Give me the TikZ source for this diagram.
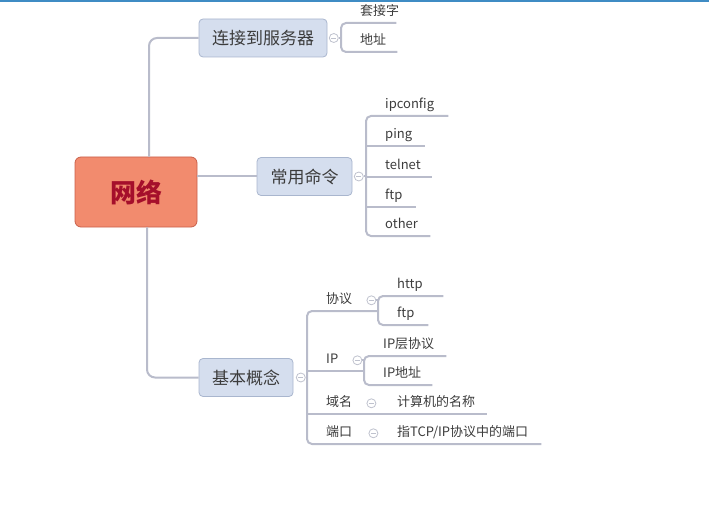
\documentclass[tikz,border=0pt]{standalone}
\usepackage{fontspec}
\setmainfont{Noto Sans CJK SC}
\usetikzlibrary{positioning}

\definecolor{branchgray}{HTML}{B9BCCB}
\definecolor{foldgray}{HTML}{BFC2CE}
\definecolor{topicfill}{HTML}{D5DEEE}
\definecolor{topicline}{HTML}{A9B6CE}
\definecolor{rootfill}{HTML}{F28B6E}
\definecolor{rootline}{HTML}{C9604A}
\definecolor{roottext}{HTML}{A50F2B}
\definecolor{textgray}{HTML}{3C3C3C}
\definecolor{barblue}{HTML}{3F8CC4}

\begin{document}
\begin{tikzpicture}[x=1pt, y=-1pt,
    branch/.style={draw=branchgray, line width=2pt},
    root/.style={rectangle, rounded corners=6pt, draw=rootline, fill=rootfill, line width=0.8pt,
        text=roottext, font=\fontsize{26}{30}\selectfont\bfseries, inner sep=0pt},
    topic/.style={rectangle, rounded corners=4pt, draw=topicline, fill=topicfill, line width=0.8pt,
        text=textgray, font=\fontsize{17}{20}\selectfont, minimum height=38pt, inner sep=0pt},
    leaf/.style={anchor=south west, inner xsep=0pt, inner ysep=4pt, text height=10pt, text depth=3pt,
        align=left, text=textgray, font=\fontsize{13}{15}\selectfont,
        execute at begin node={\hspace*{19pt}}},
    fold/.style={circle, draw=foldgray, fill=white, line width=0.8pt, minimum size=9pt, inner sep=0pt,
        path picture={\draw[foldgray, line width=0.8pt] (path picture bounding box.center) ++(-2.5pt,0) -- ++(5pt,0);}}]
\useasboundingbox (0,0) rectangle (709,505);

% top bar
\draw[barblue, line width=2pt] (0,1) -- (709,1);

% Root and main topics
\node[root, minimum width=122pt, minimum height=70pt] (net) at (136,192) {网络};
\node[topic, minimum width=128pt] (server) at (263,38) {连接到服务器};
\node[topic, minimum width=95pt] (cmd) at (304.5,176.5) {常用命令};
\node[topic, minimum width=94pt] (basic) at (246,377.5) {基本概念};

\draw[branch, rounded corners=8pt] ([xshift=13pt]net.north) |- (server.west);
\draw[branch] (net.east |- cmd.west) -- (cmd.west);
\draw[branch, rounded corners=8pt] ([xshift=11pt]net.south) |- (basic.west);

\node[fold, right=1.5pt of server] (server-fold) {};
\node[fold, right=1.5pt of cmd] (cmd-fold) {};
\node[fold, right=2.5pt of basic] (basic-fold) {};

%% 连接到服务器
\node[leaf, text width=55pt] (socket) at (341,23) {套接字};
\node[leaf, text width=56pt] (addr) at (341,52) {地址};

\draw[branch, rounded corners=5pt] (socket.south east) -- (socket.south west) -- (addr.south west) -- (addr.south east);
\draw[branch] (server-fold.east) -- (server-fold.east -| socket.south west);

%% 常用命令
\node[leaf, text width=82pt] (ipconfig) at (366,116) {ipconfig};
\node[leaf, text width=59pt] (ping) at (366,146) {ping};
\node[leaf, text width=66pt] (telnet) at (366,177) {telnet};
\node[leaf, text width=50pt] (ftp) at (366,207) {ftp};
\node[leaf, text width=64pt] (other) at (366,236) {other};

\draw[branch, rounded corners=5pt] (ipconfig.south east) -- (ipconfig.south west) -- (other.south west) -- (other.south east);
\draw[branch] (ping.south west) -- (ping.south east);
\draw[branch] (telnet.south west) -- (telnet.south east);
\draw[branch] (ftp.south west) -- (ftp.south east);
\draw[branch] (cmd-fold.east) -- (cmd-fold.east -| telnet.south west);

%% 基本概念
\node[leaf, text width=71pt] (proto) at (307,311) {协议};
\node[leaf, text width=57pt] (ip) at (307,371) {IP};
\node[leaf, text width=71pt] (domain) at (307,414) {域名};
\node[leaf, text width=71pt] (port) at (307,444) {端口};

\node[leaf, text width=65pt] (http) at (378,296) {http};
\node[leaf, text width=50pt] (ftp-proto) at (378,325) {ftp};
\node[leaf, text width=82pt] (ip-layer) at (364,356) {IP层协议};
\node[leaf, text width=68pt] (ip-addr) at (364,385) {IP地址};
\node[leaf, text width=109pt] (hostname) at (378,414) {计算机的名称};
\node[leaf, text width=163pt] (port-desc) at (378,444) {指TCP/IP协议中的端口};

\node[fold] (proto-fold) at ([xshift=-7pt]proto.east) {};
\node[fold] (ip-fold) at ([xshift=-7pt]ip.east) {};
\node[fold] (domain-fold) at ([xshift=-7pt]domain.east) {};
\node[fold] (port-fold) at ([xshift=-5pt]port.east) {};

\draw[branch, rounded corners=5pt] (proto.south east) -- (proto.south west) -- (port.south west) -- (port-desc.south east);
\draw[branch] (ip.south west) -- (ip.south east);
\draw[branch] (domain.south west) -- (hostname.south east);
\draw[branch] (basic-fold.east) -- (basic-fold.east -| proto.south west);

\draw[branch, rounded corners=5pt] (http.south east) -- (http.south west) -- (ftp-proto.south west) -- (ftp-proto.south east);
\draw[branch] (proto-fold.east) -- (proto-fold.east -| http.south west);
\draw[branch, rounded corners=5pt] (ip-layer.south east) -- (ip-layer.south west) -- (ip-addr.south west) -- (ip-addr.south east);
\draw[branch] (ip-fold.east) -- (ip-fold.east -| ip-layer.south west);
\end{tikzpicture}
\end{document}
